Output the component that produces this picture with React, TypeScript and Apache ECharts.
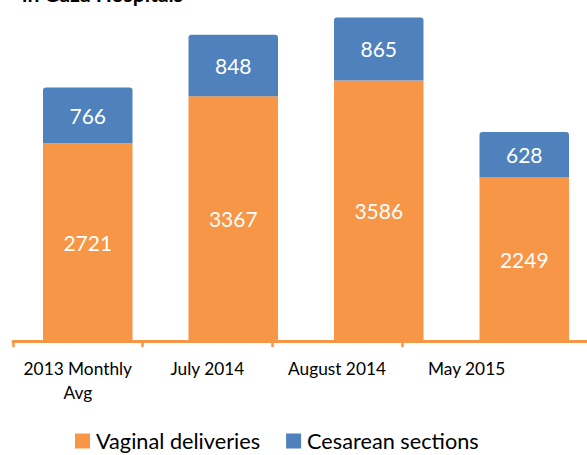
import React, { useEffect, useRef } from "react";
import * as echarts from "echarts";

const categories = ["2013 Monthly\nAvg", "July 2014", "August 2014", "May 2015"];
const labelCategories = [...categories, ""];
const vaginal = [2721, 3367, 3586, 2249];
const cesarean = [766, 848, 865, 628];
const seriesNames = ["Vaginal deliveries", "Cesarean sections"];
const titleText = "in Gaza Hospitals";

const ORANGE = "#F79646";
const BLUE = "#4F81BD";
const FONT = "Lato";

export default function App() {
  const ref = useRef<HTMLDivElement>(null);
  useEffect(() => {
    document.body.style.margin = "0";
    const chart = echarts.init(ref.current!, null, { renderer: "svg" });
    chart.setOption({
      animation: false,
      backgroundColor: "#ffffff",
      grid: [
        { left: 15, width: 582, top: 14, height: 327, containLabel: false },
        { left: 13, width: 648, top: 14, height: 327, containLabel: false },
      ],
      xAxis: [
        {
          type: "category",
          gridIndex: 0,
          data: categories,
          show: false,
        },
        {
          type: "category",
          gridIndex: 1,
          data: labelCategories,
          axisLine: { show: true, lineStyle: { color: ORANGE, width: 3 } },
          axisTick: {
            show: true,
            length: 6,
            lineStyle: { color: ORANGE, width: 2.5 },
            interval: (index: number) => index !== 4,
          },
          axisLabel: {
            color: "#000",
            fontFamily: FONT,
            fontSize: 17.3,
            lineHeight: 24,
            margin: 15,
            interval: 0,
          },
          z: 1,
        },
      ],
      yAxis: [
        { type: "value", gridIndex: 0, min: 0, max: 4500, show: false },
        { type: "value", gridIndex: 1, min: 0, max: 4500, show: false },
      ],
      legend: {
        data: seriesNames,
        left: 75,
        top: 430,
        padding: 0,
        itemWidth: 15,
        itemHeight: 15,
        itemGap: 26,
        icon: "rect",
        textStyle: { color: "#000", fontFamily: FONT, fontSize: 21.7, padding: [0, 0, 0, 1] },
      },
      graphic: [
        {
          type: "text",
          x: 183,
          y: 4,
          style: {
            text: titleText,
            fill: "#000",
            font: `bold 21px ${FONT}`,
            align: "right",
            verticalAlign: "bottom",
          },
        },
      ],
      series: [
        {
          name: seriesNames[0],
          type: "bar",
          stack: "total",
          xAxisIndex: 0,
          yAxisIndex: 0,
          barWidth: 89.5,
          data: vaginal,
          itemStyle: { color: ORANGE },
          label: {
            show: true,
            position: "inside",
            color: "#fff",
            fontFamily: FONT,
            fontSize: 21,
          },
          z: 2,
        },
        {
          name: seriesNames[1],
          type: "bar",
          stack: "total",
          xAxisIndex: 0,
          yAxisIndex: 0,
          barWidth: 89.5,
          data: cesarean,
          itemStyle: { color: BLUE, borderRadius: [3, 3, 0, 0] },
          label: {
            show: true,
            position: "inside",
            color: "#fff",
            fontFamily: FONT,
            fontSize: 21,
          },
          z: 2,
        },
      ],
    });
    return () => chart.dispose();
  }, []);
  return (
    <div style={{ width: 587, height: 455, overflow: "hidden", position: "relative" }}>
      <div ref={ref} style={{ width: 700, height: 455 }} />
    </div>
  );
}
